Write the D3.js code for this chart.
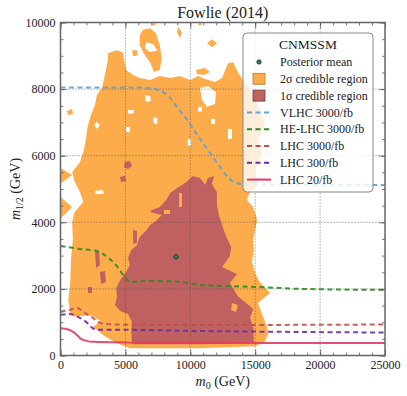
<!DOCTYPE html>
<html>
<head>
<meta charset="utf-8">
<script src="https://cdn.jsdelivr.net/npm/d3@7/dist/d3.min.js"></script>
<style>
  body { margin: 0; background: #fff; }
  text { font-family: "Liberation Serif", "Times New Roman", serif; fill: #222; }
</style>
</head>
<body>
<script>
// axis ticks
var xTicks = [0, 5000, 10000, 15000, 20000, 25000];
var yTicks = [0, 2000, 4000, 6000, 8000, 10000];

// 2 sigma region (m0, m1/2), outline + islands + white holes
var region2 = [[3650,9080],[4300,9170],[4800,9110],[5050,8570],[5600,8420],[6100,8330],[6900,8270],[7650,8390],[8450,8330],[9200,8390],[9980,8270],[10600,8390],[11150,8300],[11900,8210],[12450,8330],[12900,8780],[13300,8810],[13650,8510],[14050,8270],[14600,8030],[15050,7670],[15500,7220],[15750,6920],[15200,6470],[15500,6020],[14980,5570],[15200,5120],[14600,4910],[14350,4670],[14830,4460],[15150,4070],[14830,3470],[14900,3170],[14750,2810],[15050,2420],[15350,2210],[16150,1880],[15200,1580],[15500,1280],[15900,860],[16000,650],[15700,400],[15000,280],[10750,220],[5350,220],[4450,350],[3450,560],[2500,860],[2750,920],[3050,1040],[2450,1190],[1900,1190],[1100,1160],[750,1280],[600,1670],[750,2180],[800,2870],[950,3470],[900,4010],[1100,4310],[1750,4610],[1500,4910],[1100,5210],[900,5510],[1500,5810],[1800,6170],[1950,6470],[2100,6890],[2350,7220],[2650,7520],[2800,7820],[3200,8030],[3500,8570],[3650,8870]];
var islands2 = [
  [[6350,9780],[6900,9830],[7350,9680],[7650,9320],[7800,8930],[7650,8570],[7200,8510],[6900,8810],[6500,9020],[6100,9320],[6100,9620]],
  [[9050,9870],[9350,9710],[9200,9530],[8980,9710]],
  [[11290,9380],[11670,9500],[12060,9380],[11670,9260]],
  [[10440,8570],[11130,8630],[11520,8510],[11060,8420],[10520,8450]],
  [[5510,9170],[5890,9170],[5970,9020],[5590,8990]],
  [[500,7340],[890,7400],[960,7250],[580,7220]],
  [[0,5630],[890,5420],[50,5180]],
  [[0,4760],[890,4460],[50,4130]],
  [[7200,10000],[7350,9950],[7200,9900],[7050,9950]],
  [[10750,10000],[10900,9950],[10750,9900],[10600,9950]]
];
var holes2 = [
  [[6600,9410],[7150,9350],[7450,9170],[6900,9110],[6500,9230]],
  [[10750,8030],[11360,8090],[11980,7910],[11900,7550],[11290,7460],[10900,7670]],
  [[6510,7820],[6900,7790],[6970,7640],[6590,7610]],
  [[7150,7160],[7450,7130],[7450,6950],[7150,6980]],
  [[5200,7370],[5650,7370],[5650,7270],[5200,7270]],
  [[2600,6920],[2810,7020],[3040,6920],[2810,6800]],
  [[5050,6860],[5350,6860],[5350,6710],[5050,6710]],
  [[2660,4940],[3270,4970],[3350,4850],[2660,4850]],
  [[10600,7460],[10900,7460],[10900,7330],[10600,7330]],
  [[11600,7100],[11900,7100],[11900,6950],[11600,6950]],
  [[12900,6800],[13200,6800],[13200,6500],[12900,6500]],
  [[9800,6500],[10050,6500],[10050,6300],[9800,6300]]
];

// 1 sigma region, outline + islands + orange holes
var region1 = [[10200,5390],[10750,5330],[11150,5120],[11350,5330],[11850,5390],[11650,5150],[12050,4910],[12050,4520],[12200,4220],[12500,3860],[12750,3590],[13150,3260],[13050,2990],[12450,2660],[13600,2450],[13050,2180],[13650,1790],[14850,1400],[14600,1130],[14850,830],[14900,380],[10750,340],[5500,340],[5450,710],[5500,1010],[5200,1250],[4600,1340],[4200,1520],[4350,1760],[4300,2030],[4600,2270],[5100,2540],[5350,2720],[5200,2930],[5450,3170],[5900,3320],[6100,3560],[6650,3770],[6900,3920],[7350,4040],[7800,4220],[6900,4310],[7050,4370],[7650,4460],[8150,4670],[8450,4880],[9000,5030],[9600,5180]];
var islands1 = [
  [[4970,5810],[5350,5840],[5510,5690],[5200,5600],[4890,5660]],
  [[4580,5360],[4970,5390],[5050,5240],[4660,5210]],
  [[5590,3770],[5890,3740],[5890,3380],[5590,3350]],
  [[2660,3110],[2970,3140],[3040,2720],[2740,2630]],
  [[3040,2510],[3430,2540],[3500,2210],[3120,2150]],
  [[2120,2060],[2430,2060],[2430,1880],[2120,1880]]
];
var holes1 = [
  [[9130,4880],[9360,4880],[9360,4460],[9130,4460]],
  [[7970,4370],[8440,4370],[8440,4250],[7970,4250]],
  [[13210,1580],[13670,1520],[13520,1310],[13140,1370]]
];

// reach curves
var vlhc = [[0,8050],[6000,8050],[7000,8020],[7700,7950],[8300,7800],[9000,7450],[9800,7050],[10500,6650],[11300,6200],[12050,5800],[12800,5400],[13400,5200],[14000,5150],[25000,5120]];
var heLhc = [[0,3290],[1500,3200],[2800,3140],[3600,2960],[4400,2660],[5000,2330],[5400,2210],[6700,2240],[9200,2210],[10750,2120],[12300,2090],[15100,2060],[18500,2000],[25000,1970]];
var lhc3000 = [[0,1310],[700,1370],[1300,1430],[1750,1310],[2400,1160],[2900,1010],[3300,950],[5100,925],[10000,915],[25000,930]];
var lhc300 = [[0,1220],[700,1250],[1350,1160],[2050,980],[2450,830],[2800,770],[5100,770],[10000,740],[25000,690]];
var lhc20 = [[0,820],[600,780],[1000,700],[1300,600],[1600,490],[2000,440],[2500,410],[4500,395],[7000,375],[25000,375]];
var posteriorMean = [8900, 2960];

var W = 407, H = 396;
var pL = 60.5, pR = 385, pT = 22.5, pB = 355.5;

var svg = d3.select("body").append("svg")
    .attr("width", W)
    .attr("height", H);

var x = d3.scaleLinear().domain([0, 25000]).range([pL, pR]);
var y = d3.scaleLinear().domain([0, 10000]).range([pB, pT]);

svg.append("clipPath").attr("id", "plot")
    .append("rect")
    .attr("x", pL).attr("y", pT)
    .attr("width", pR - pL).attr("height", pB - pT);

var g = svg.append("g").attr("clip-path", "url(#plot)");

var poly = d3.line().x(function(d) { return x(d[0]); }).y(function(d) { return y(d[1]); });
function shape(p) { return poly(p) + "Z"; }

var orange = "#fdac4b", red = "#bf6161";

// 2 sigma
g.selectAll(".r2").data([region2].concat(islands2)).enter().append("path")
    .attr("d", shape).attr("fill", orange);
g.selectAll(".h2").data(holes2).enter().append("path")
    .attr("d", shape).attr("fill", "#fff");

// 1 sigma
g.selectAll(".r1").data([region1].concat(islands1)).enter().append("path")
    .attr("d", shape).attr("fill", red);
g.selectAll(".h1").data(holes1).enter().append("path")
    .attr("d", shape).attr("fill", orange);

// grid
g.selectAll(".gx").data(xTicks.slice(1, -1)).enter().append("line")
    .attr("x1", x).attr("x2", x).attr("y1", pT).attr("y2", pB)
    .attr("stroke", "#555").attr("stroke-width", 0.8).attr("stroke-dasharray", "1,2");
g.selectAll(".gy").data(yTicks.slice(1, -1)).enter().append("line")
    .attr("y1", y).attr("y2", y).attr("x1", pL).attr("x2", pR)
    .attr("stroke", "#555").attr("stroke-width", 0.8).attr("stroke-dasharray", "1,2");

// curves
var curve = d3.line().curve(d3.curveMonotoneX)
    .x(function(d) { return x(d[0]); }).y(function(d) { return y(d[1]); });

var series = [
  {name: "VLHC 3000/fb", data: vlhc, color: "#649fcf", dash: "5,3.5", w: 2},
  {name: "HE-LHC 3000/fb", data: heLhc, color: "#2f8a27", dash: "5,3.5", w: 2},
  {name: "LHC 3000/fb", data: lhc3000, color: "#c2504c", dash: "5,3.5", w: 2},
  {name: "LHC 300/fb", data: lhc300, color: "#6b2d9e", dash: "5,3.5", w: 2},
  {name: "LHC 20/fb", data: lhc20, color: "#e23c63", dash: null, w: 2}
];

g.selectAll(".curve").data(series).enter().append("path")
    .attr("d", function(d) { return curve(d.data); })
    .attr("fill", "none")
    .attr("stroke", function(d) { return d.color; })
    .attr("stroke-width", function(d) { return d.w; })
    .attr("stroke-dasharray", function(d) { return d.dash; })
    .attr("opacity", 0.9);

// posterior mean
g.append("circle")
    .attr("cx", x(posteriorMean[0])).attr("cy", y(posteriorMean[1]))
    .attr("r", 2.3)
    .attr("fill", "#2b7d52").attr("stroke", "#1a3a2a").attr("stroke-width", 0.8);

// axes: ticks inward on all sides
function ticks(axis, tx, ty, values, len, labels) {
  var a = axis.tickValues(values).tickSizeInner(-len).tickSizeOuter(0).tickPadding(5)
      .tickFormat(labels ? d3.format("d") : "");
  var el = svg.append("g").attr("transform", "translate(" + tx + "," + ty + ")").call(a);
  el.select(".domain").remove();
  el.selectAll("line").attr("stroke", "#555").attr("stroke-width", 0.8);
  el.selectAll("text").attr("font-size", 12).attr("font-family", "Liberation Serif, serif").attr("fill", "#222");
  return el;
}
var xMinor = d3.range(0, 25001, 1000), yMinor = d3.range(0, 10001, 500);
ticks(d3.axisBottom(x), 0, pB, xMinor, 3, false);
ticks(d3.axisTop(x), 0, pT, xMinor, 3, false);
ticks(d3.axisLeft(y), pL, 0, yMinor, 3, false);
ticks(d3.axisRight(y), pR, 0, yMinor, 3, false);
ticks(d3.axisBottom(x), 0, pB, xTicks, 6, true);
ticks(d3.axisTop(x), 0, pT, xTicks, 6, false);
ticks(d3.axisLeft(y), pL, 0, yTicks, 6, true);
ticks(d3.axisRight(y), pR, 0, yTicks, 6, false);

svg.append("rect")
    .attr("x", pL).attr("y", pT)
    .attr("width", pR - pL).attr("height", pB - pT)
    .attr("fill", "none").attr("stroke", "#666").attr("stroke-width", 1.5);

// title and labels
svg.append("text").attr("x", (pL + pR) / 2).attr("y", 18)
    .attr("text-anchor", "middle").attr("font-size", 16).text("Fowlie (2014)");

var xl = svg.append("text").attr("x", (pL + pR) / 2).attr("y", 386)
    .attr("text-anchor", "middle").attr("font-size", 14);
xl.append("tspan").attr("font-style", "italic").text("m");
xl.append("tspan").attr("font-size", 10).attr("dy", 3).text("0");
xl.append("tspan").attr("dy", -3).text(" (GeV)");

var yl = svg.append("text").attr("transform", "translate(20," + ((pT + pB) / 2) + ") rotate(-90)")
    .attr("text-anchor", "middle").attr("font-size", 14);
yl.append("tspan").attr("font-style", "italic").text("m");
yl.append("tspan").attr("font-size", 10).attr("dy", 3).text("1/2");
yl.append("tspan").attr("dy", -3).text(" (GeV)");

// legend
var lg = svg.append("g");
lg.append("rect").attr("x", 243).attr("y", 33).attr("width", 130).attr("height", 159)
    .attr("rx", 4).attr("fill", "#fff").attr("fill-opacity", 0.8)
    .attr("stroke", "#888").attr("stroke-width", 1);
lg.append("text").attr("x", 308).attr("y", 49).attr("text-anchor", "middle")
    .attr("font-size", 13.5).text("CNMSSM");

var entries = ["Posterior mean", "2\u03C3 credible region", "1\u03C3 credible region"]
    .concat(series.map(function(d) { return d.name; }));
var row = function(i) { return 62 + i * 16.8; };

lg.selectAll(".lt").data(entries).enter().append("text")
    .attr("x", 280).attr("y", function(d, i) { return row(i); })
    .attr("dy", "0.35em").attr("font-size", 12).text(function(d) { return d; });

lg.append("circle").attr("cx", 259).attr("cy", row(0)).attr("r", 2.2)
    .attr("fill", "#2b7d52").attr("stroke", "#1a3a2a").attr("stroke-width", 0.8);
lg.append("rect").attr("x", 253).attr("y", row(1) - 5.5).attr("width", 12).attr("height", 11)
    .attr("fill", orange).attr("stroke", "#b07a3a").attr("stroke-width", 0.8);
lg.append("rect").attr("x", 253).attr("y", row(2) - 5.5).attr("width", 12).attr("height", 11)
    .attr("fill", red).attr("stroke", "#7a3a3a").attr("stroke-width", 0.8);
lg.selectAll(".ll").data(series).enter().append("line")
    .attr("x1", 247).attr("x2", 271)
    .attr("y1", function(d, i) { return row(i + 3); }).attr("y2", function(d, i) { return row(i + 3); })
    .attr("stroke", function(d) { return d.color; })
    .attr("stroke-width", function(d) { return d.w; })
    .attr("stroke-dasharray", function(d) { return d.dash; });
</script>
</body>
</html>
